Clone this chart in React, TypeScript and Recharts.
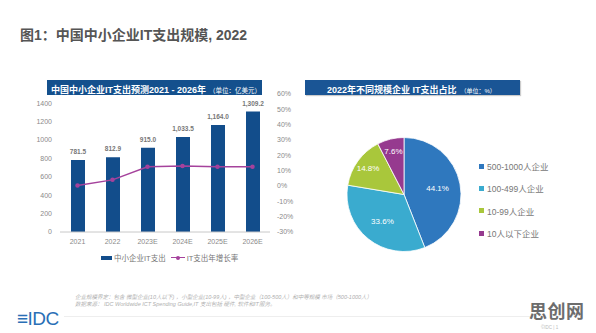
import React from 'react';
import {
  ComposedChart,
  Bar,
  Line,
  XAxis,
  YAxis,
  LabelList,
  PieChart,
  Pie,
  Cell
} from 'recharts';

const years = ['2021', '2022', '2023E', '2024E', '2025E', '2026E'];
const spending = [781.5, 812.9, 915.0, 1033.5, 1164.0, 1309.2];
const spendingLabels = ['781.5', '812.9', '915.0', '1,033.5', '1,164.0', '1,309.2'];
const growth = [0.3, 4.0, 12.6, 13.0, 12.6, 12.5];
const leftTicks = [0, 200, 400, 600, 800, 1000, 1200, 1400];
const rightTicks = [-30, -20, -10, 0, 10, 20, 30, 40, 50, 60];

const segments = ['500-1000人企业', '100-499人企业', '10-99人企业', '10人以下企业'];
const shares = [44.1, 33.6, 14.8, 7.6];
const pieColors = ['#2f78be', '#3aabcf', '#a9c73b', '#963a8f'];

const FONT = '"Liberation Sans", "Noto Sans CJK SC", sans-serif';
const BAR_BLUE = '#124d8b';
const LINE_PURPLE = '#a5429c';

const barData = years.map((y, i) => ({
  year: y,
  spend: spending[i],
  label: spendingLabels[i],
  growth: growth[i]
}));

const pieData = segments.map((s, i) => ({ name: s, value: shares[i] }));

const RAD = Math.PI / 180;
// small slices get their label pushed further out, like the original
const renderPieLabel = (p: any) => {
  const r = p.outerRadius * (p.value < 20 ? 0.78 : 0.6);
  const x = p.cx + r * Math.cos(-p.midAngle * RAD);
  const y = p.cy + r * Math.sin(-p.midAngle * RAD);
  return (
    <text x={x} y={y} fill="#fff" fontSize={8} fontFamily={FONT} textAnchor="middle" dominantBaseline="central">
      {p.value.toFixed(1)}%
    </text>
  );
};

const App: React.FC = () => {
  const tickStyle = { fontSize: 7, fill: '#8a8a8a', fontFamily: FONT };

  return (
    <div style={{ position: 'absolute', left: 0, top: 0, width: 596, height: 333, background: '#fff', fontFamily: FONT, overflow: 'hidden' }}>
      {/* main title */}
      <div style={{ position: 'absolute', left: 20, top: 24, fontSize: 14, fontWeight: 'bold', color: '#555', whiteSpace: 'nowrap' }}>
        图1：中国中小企业IT支出规模, 2022
      </div>

      {/* left header */}
      <div style={{ position: 'absolute', left: 47, top: 80, width: 215, height: 15, background: '#14508d', color: '#fff', whiteSpace: 'nowrap', lineHeight: '15px' }}>
        <span style={{ marginLeft: 4, fontSize: 9, fontWeight: 'bold' }}>中国中小企业IT支出预测2021 - 2026年</span>
        <span style={{ marginLeft: 3, fontSize: 6.5 }}>（单位：亿美元）</span>
      </div>

      {/* right header */}
      <div style={{ position: 'absolute', left: 305, top: 80, width: 215, height: 15, background: '#1a5595', color: '#fff', whiteSpace: 'nowrap', lineHeight: '15px', boxShadow: '1px 1px 1px #ccc' }}>
        <span style={{ marginLeft: 22, fontSize: 9, fontWeight: 'bold' }}>2022年不同规模企业 IT支出占比</span>
        <span style={{ marginLeft: 4, fontSize: 6 }}>（单位：%）</span>
      </div>

      {/* bar + line chart */}
      <div style={{ position: 'absolute', left: 0, top: 0 }}>
        <ComposedChart width={300} height={270} data={barData} margin={{ top: 94, right: 0, bottom: 18, left: 10 }}>
          <XAxis
            dataKey="year"
            height={20}
            tick={tickStyle}
            tickLine={false}
            tickSize={0}
            tickMargin={7}
            axisLine={{ stroke: '#c8c8c8' }}
          />
          <YAxis
            yAxisId="left"
            width={50}
            domain={[0, 1500]}
            ticks={leftTicks}
            tick={tickStyle}
            tickLine={false}
            tickSize={0}
            tickMargin={8}
            axisLine={false}
          />
          <YAxis
            yAxisId="right"
            orientation="right"
            width={30}
            domain={[-30, 60]}
            ticks={rightTicks}
            tickFormatter={(v: number) => `${v}%`}
            tick={{ ...tickStyle, textAnchor: 'start' }}
            tickLine={false}
            tickSize={0}
            tickMargin={7}
            axisLine={false}
          />
          <Bar yAxisId="left" dataKey="spend" fill={BAR_BLUE} barSize={14} isAnimationActive={false}>
            <LabelList dataKey="label" position="top" offset={6} fontSize={6.5} fontWeight="bold" fill="#777" fontFamily={FONT} />
          </Bar>
          <Line
            yAxisId="right"
            type="linear"
            dataKey="growth"
            stroke={LINE_PURPLE}
            strokeWidth={1.5}
            dot={{ r: 1.5, fill: LINE_PURPLE, stroke: LINE_PURPLE }}
            isAnimationActive={false}
          />
        </ComposedChart>
      </div>

      {/* left legend */}
      <div style={{ position: 'absolute', left: 101, top: 252, fontSize: 7.5, color: '#777', whiteSpace: 'nowrap', display: 'flex', alignItems: 'center' }}>
        <span style={{ display: 'inline-block', width: 11, height: 4, background: BAR_BLUE, marginRight: 2 }} />
        <span>中小企业IT支出</span>
        <span style={{ display: 'inline-block', width: 14, height: 1.5, background: LINE_PURPLE, marginLeft: 5, marginRight: 2, position: 'relative' }}>
          <span style={{ position: 'absolute', left: 5.5, top: -1.25, width: 4, height: 4, borderRadius: 2, background: LINE_PURPLE }} />
        </span>
        <span>IT支出年增长率</span>
      </div>

      {/* pie chart */}
      <div style={{ position: 'absolute', left: 300, top: 70 }}>
        <PieChart width={296} height={240}>
          <Pie
            data={pieData}
            dataKey="value"
            cx={99}
            cy={119.5}
            outerRadius={57}
            startAngle={90}
            endAngle={-270}
            stroke="#fff"
            strokeWidth={0.8}
            label={renderPieLabel}
            labelLine={false}
            isAnimationActive={false}
          >
            {pieData.map((d, i) => (
              <Cell key={d.name} fill={pieColors[i]} />
            ))}
          </Pie>
        </PieChart>
      </div>

      {/* pie legend */}
      <div style={{ position: 'absolute', left: 479, top: 155 }}>
        {segments.map((s, i) => (
          <div key={s} style={{ display: 'flex', alignItems: 'center', height: 22.3, fontSize: 8.5, color: '#777', whiteSpace: 'nowrap' }}>
            <span style={{ display: 'inline-block', width: 5, height: 5, background: pieColors[i], marginRight: 3 }} />
            {s}
          </div>
        ))}
      </div>

      {/* footer notes */}
      <div style={{ position: 'absolute', left: 75, top: 294, fontSize: 5.5, color: '#b0b0b0', fontStyle: 'italic', lineHeight: '6.5px', whiteSpace: 'nowrap' }}>
        <div>企业规模界定：包含 微型企业(10人以下) ，小型企业(10-99人) ，中型企业（100-500人）和中等规模 市场（500-1000人）</div>
        <div>数据来源：  IDC Worldwide ICT Spending Guide,IT 支出包括 硬件, 软件和IT服务。</div>
      </div>

      {/* IDC logo */}
      <div style={{ position: 'absolute', left: 17, top: 308, fontSize: 19, color: '#2a6fb6', letterSpacing: -0.5, whiteSpace: 'nowrap' }}>
        ≡IDC
      </div>
      <div style={{ position: 'absolute', left: 64, top: 316, width: 466, height: 0, borderTop: '1px solid #eeeeee' }} />

      {/* watermark */}
      <div style={{ position: 'absolute', left: 529, top: 298, fontSize: 18, fontWeight: 'bold', color: '#6d6d6d', letterSpacing: 0.5, whiteSpace: 'nowrap', lineHeight: '24px', fontFamily: '"Noto Sans CJK SC", sans-serif' }}>
        思创网
      </div>
      <div style={{ position: 'absolute', left: 541, top: 325, fontSize: 4.5, lineHeight: '6px', color: '#bbb', whiteSpace: 'nowrap' }}>
        ©IDC | 1
      </div>
    </div>
  );
};

export default App;
